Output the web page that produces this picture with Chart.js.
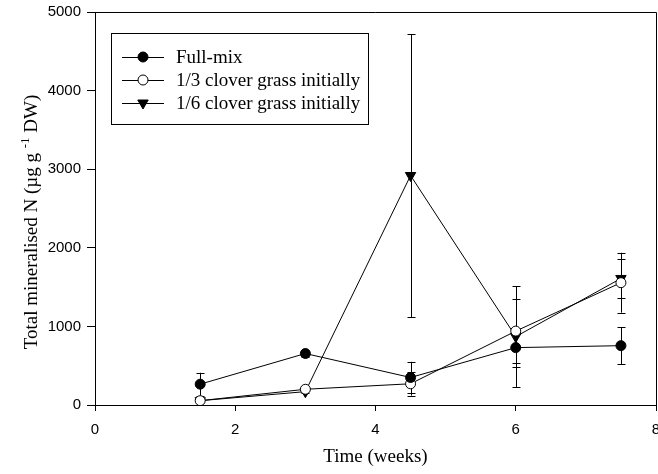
<!DOCTYPE html>
<html>
<head>
<meta charset="utf-8">
<script src="https://cdn.jsdelivr.net/npm/chart.js@4.4.1/dist/chart.umd.min.js"></script>
<style>
  body { margin: 0; background: #fff; }
  canvas { display: block; }
</style>
</head>
<body>
<canvas id="chart" width="658" height="474"></canvas>
<script>
// weeks of sampling
const weeks = [1.5, 3, 4.5, 6, 7.5];

// Full-mix
const fullMix = [265, 655, 350, 730, 755];
const fullMixErr = [145, 45, 200, 250, 233];

// 1/3 clover grass initially
const clover3 = [55, 200, 270, 940, 1556];
const clover3Err = [20, 20, 150, 410, 381];

// 1/6 clover grass initially
const clover6 = [55, 170, 2920, 870, 1610];
const clover6Err = [20, 20, 1800, 640, 250];

const seriesLabels = ['Full-mix', '1/3 clover grass initially', '1/6 clover grass initially'];
const xTicks = [0, 2, 4, 6, 8];
const yTicks = [0, 1000, 2000, 3000, 4000, 5000];

const serif = "'Liberation Serif', 'Times New Roman', serif";
const sans = "'Liberation Sans', Arial, sans-serif";

function pts(ys) {
  return weeks.map((w, i) => ({ x: w, y: ys[i] }));
}

// error bars, drawn under the markers
const errorBars = {
  id: 'errorBars',
  beforeDatasetsDraw(chart) {
    const ctx = chart.ctx;
    const xs = chart.scales.x, ys = chart.scales.y;
    ctx.save();
    ctx.strokeStyle = '#000';
    ctx.lineWidth = 1;
    chart.data.datasets.forEach(ds => {
      ds.data.forEach((p, i) => {
        const e = ds.errors[i];
        const px = Math.round(xs.getPixelForValue(p.x)) + 0.5;
        const top = ys.getPixelForValue(p.y + e);
        const bot = ys.getPixelForValue(Math.max(p.y - e, 0));
        ctx.beginPath();
        ctx.moveTo(px, top); ctx.lineTo(px, bot);
        ctx.moveTo(px - 4, Math.round(top) + 0.5); ctx.lineTo(px + 4, Math.round(top) + 0.5);
        ctx.moveTo(px - 4, Math.round(bot) + 0.5); ctx.lineTo(px + 4, Math.round(bot) + 0.5);
        ctx.stroke();
      });
    });
    ctx.restore();
  }
};

// box around the plot, y title with superscript, legend in the top left
const frameAndLegend = {
  id: 'frameAndLegend',
  afterDraw(chart) {
    const ctx = chart.ctx;
    const a = chart.chartArea;
    ctx.save();
    ctx.strokeStyle = '#000';
    ctx.lineWidth = 1;
    ctx.beginPath();
    ctx.moveTo(Math.round(a.left), Math.round(a.top) + 0.5);
    ctx.lineTo(Math.round(a.right) + 0.5, Math.round(a.top) + 0.5);
    ctx.lineTo(Math.round(a.right) + 0.5, Math.round(a.bottom));
    ctx.stroke();

    // y title
    const t1 = 'Total mineralised N (\u00b5g g ', t2 = '-1', t3 = ' DW)';
    const big = '19px ' + serif, small = '13px ' + serif;
    ctx.font = big;
    const w1 = ctx.measureText(t1).width, w3 = ctx.measureText(t3).width;
    ctx.font = small;
    const w2 = ctx.measureText(t2).width;
    const total = w1 + w2 + w3;
    ctx.save();
    ctx.translate(30, 222);
    ctx.rotate(-Math.PI / 2);
    ctx.fillStyle = '#000';
    ctx.textBaseline = 'alphabetic';
    ctx.textAlign = 'left';
    let cx = -total / 2;
    ctx.font = big;
    ctx.fillText(t1, cx, 7);
    cx += w1;
    ctx.font = small;
    ctx.fillText(t2, cx, -1);
    cx += w2;
    ctx.font = big;
    ctx.fillText(t3, cx, 7);
    ctx.restore();

    // legend
    const bx = 111.5, by = 33.5, bw = 257, bh = 91;
    ctx.fillStyle = '#fff';
    ctx.fillRect(bx, by, bw, bh);
    ctx.strokeRect(bx, by, bw, bh);
    ctx.font = '19px ' + serif;
    ctx.textBaseline = 'middle';
    ctx.textAlign = 'left';
    chart.data.datasets.forEach((ds, i) => {
      const y = 57 + i * 23;
      ctx.strokeStyle = '#000';
      ctx.beginPath();
      ctx.moveTo(122, y + 0.5); ctx.lineTo(164, y + 0.5);
      ctx.stroke();
      ctx.fillStyle = ds.pointBackgroundColor;
      Chart.helpers.drawPoint(ctx, {
        pointStyle: ds.pointStyle,
        radius: ds.pointRadius,
        rotation: ds.pointRotation || 0,
        borderWidth: 1
      }, 143, y);
      ctx.fillStyle = '#000';
      ctx.fillText(ds.label, 176, y + 1);
    });
    ctx.restore();
  }
};

new Chart(document.getElementById('chart'), {
  type: 'scatter',
  data: {
    datasets: [
      {
        label: seriesLabels[0],
        data: pts(fullMix),
        errors: fullMixErr,
        showLine: true,
        borderColor: '#000',
        borderWidth: 1,
        pointStyle: 'circle',
        pointRadius: 5,
        pointBackgroundColor: '#000',
        pointBorderColor: '#000'
      },
      {
        label: seriesLabels[1],
        data: pts(clover3),
        errors: clover3Err,
        showLine: true,
        borderColor: '#000',
        borderWidth: 1,
        pointStyle: 'circle',
        pointRadius: 5,
        pointBackgroundColor: '#fff',
        pointBorderColor: '#000'
      },
      {
        label: seriesLabels[2],
        data: pts(clover6),
        errors: clover6Err,
        showLine: true,
        borderColor: '#000',
        borderWidth: 1,
        pointStyle: 'triangle',
        pointRotation: 180,
        pointRadius: 6,
        pointBackgroundColor: '#000',
        pointBorderColor: '#000'
      }
    ]
  },
  options: {
    responsive: false,
    animation: false,
    layout: { autoPadding: false, padding: { top: 12, right: 2, left: 0, bottom: 0 } },
    plugins: {
      legend: { display: false },
      tooltip: { enabled: false }
    },
    scales: {
      x: {
        type: 'linear',
        min: 0,
        max: 8,
        afterBuildTicks: s => { s.ticks = xTicks.map(v => ({ value: v })); },
        afterFit: s => { s.height = 69; s.paddingLeft = 0; s.paddingRight = 0; },
        grid: { display: true, drawOnChartArea: false, tickLength: 6, color: '#000' },
        border: { color: '#000', width: 1 },
        ticks: { color: '#000', font: { family: sans, size: 15 }, padding: 10, maxRotation: 0 },
        title: { display: true, text: 'Time (weeks)', color: '#000', font: { family: serif, size: 19 }, padding: { bottom: 6 } }
      },
      y: {
        type: 'linear',
        min: 0,
        max: 5000,
        afterBuildTicks: s => { s.ticks = yTicks.map(v => ({ value: v })); },
        afterFit: s => { s.width = 95; s.paddingTop = 0; s.paddingBottom = 0; },
        grid: { display: true, drawOnChartArea: false, tickLength: 8, color: '#000' },
        border: { color: '#000', width: 1 },
        ticks: { color: '#000', font: { family: sans, size: 15 }, padding: 6, callback: v => String(v) }
      }
    }
  },
  plugins: [errorBars, frameAndLegend]
});
</script>
</body>
</html>
